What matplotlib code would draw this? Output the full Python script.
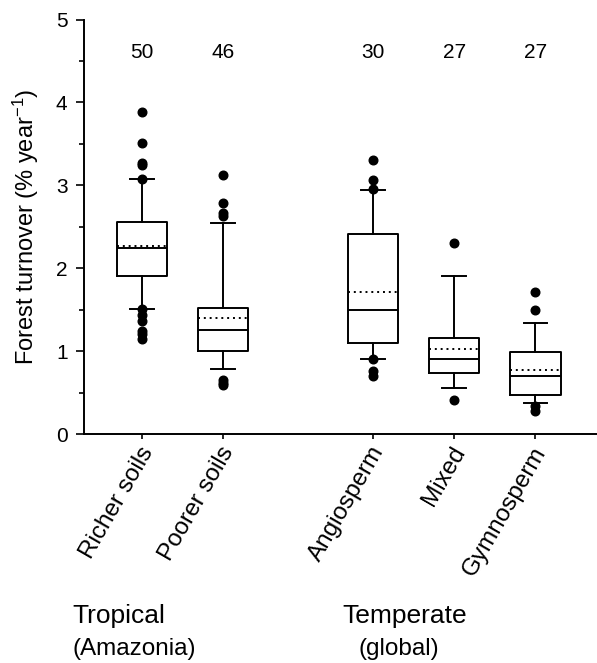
import matplotlib
matplotlib.use("Agg")
import matplotlib.pyplot as plt
from matplotlib.ticker import MultipleLocator
from matplotlib.transforms import ScaledTranslation

plt.rcParams['font.family'] = ['Liberation Sans', 'DejaVu Sans']
plt.rcParams['mathtext.fontset'] = 'custom'
plt.rcParams['mathtext.rm'] = 'Liberation Sans'
plt.rcParams['mathtext.it'] = 'Liberation Sans:italic'

# data
categories = ['Richer soils', 'Poorer soils', 'Angiosperm', 'Mixed', 'Gymnosperm']
positions = [1, 2, 3.85, 4.85, 5.85]
counts = [50, 46, 30, 27, 27]
q1 = [1.90, 1.00, 1.10, 0.73, 0.47]
q3 = [2.56, 1.52, 2.41, 1.16, 0.99]
medians = [2.24, 1.26, 1.49, 0.91, 0.70]
means = [2.27, 1.40, 1.71, 1.03, 0.77]
whis_lo = [1.51, 0.785, 0.91, 0.56, 0.37]
whis_hi = [3.08, 2.54, 2.94, 1.90, 1.34]
fliers = [
    [3.88, 3.51, 3.27, 3.25, 3.08, 1.51, 1.44, 1.36, 1.24, 1.21, 1.15],
    [3.12, 2.79, 2.66, 2.63, 0.65, 0.62, 0.59],
    [3.31, 3.06, 2.96, 0.90, 0.76, 0.70],
    [2.31, 0.41],
    [1.71, 1.50, 0.34, 0.28],
]

stats = []
for i in range(len(categories)):
    stats.append(dict(med=medians[i], q1=q1[i], q3=q3[i], whislo=whis_lo[i],
                      whishi=whis_hi[i], mean=means[i], fliers=fliers[i],
                      label=categories[i]))

fig = plt.figure(figsize=(5.97, 6.63), dpi=100)
ax = fig.add_axes([84/597, 1-434/663, 513/597, (434-19.5)/663])

lw = 1.4
ax.bxp(stats, positions=positions, widths=0.62, capwidths=0.29,
       showmeans=True, meanline=True,
       boxprops=dict(color='black', linewidth=lw),
       whiskerprops=dict(color='black', linewidth=lw),
       capprops=dict(color='black', linewidth=lw),
       medianprops=dict(color='black', linewidth=lw),
       meanprops=dict(color='black', linewidth=lw, linestyle=(0, (1, 2))),
       flierprops=dict(marker='o', markerfacecolor='black', markeredgecolor='black',
                       markersize=6.2, linestyle='none'))

ax.set_xlim(0.285, 6.61)
ax.set_ylim(0, 5)
ax.spines['top'].set_visible(False)
ax.spines['right'].set_visible(False)
ax.spines['left'].set_linewidth(1.4)
ax.spines['bottom'].set_linewidth(1.4)

ax.yaxis.set_major_locator(MultipleLocator(1))
ax.yaxis.set_minor_locator(MultipleLocator(0.5))
ax.tick_params(axis='y', which='major', length=5.8, width=1.2, labelsize=15, pad=6)
ax.tick_params(axis='y', which='minor', length=3.6, width=1.2)
ax.tick_params(axis='x', which='major', length=3.6, width=1.2, pad=4)
ax.set_xticks(positions)
ax.set_xticklabels(categories, rotation=60, ha='right', va='center',
                   rotation_mode='anchor', fontsize=17.5)
# nudge the slanted labels a little right/down like the original
shift = ScaledTranslation(0.06, -0.035, fig.dpi_scale_trans)
for lab in ax.get_xticklabels():
    lab.set_transform(lab.get_transform() + shift)

ax.set_ylabel('Forest turnover (% year$^{-1}$)', fontsize=17)
ax.yaxis.set_label_coords(-0.083, 0.5)

for x, n in zip(positions, counts):
    ax.text(x, 4.54, str(n), ha='center', va='baseline', fontsize=15)

fig.text(72/597, 1-623/663, 'Tropical', ha='left', va='baseline', fontsize=19)
fig.text(72/597, 1-655/663, '(Amazonia)', ha='left', va='baseline', fontsize=17.5)
fig.text(342/597, 1-623/663, 'Temperate', ha='left', va='baseline', fontsize=19)
fig.text(359/597, 1-655/663, '(global)', ha='left', va='baseline', fontsize=17.5)

fig.savefig('out.png', dpi=100)
